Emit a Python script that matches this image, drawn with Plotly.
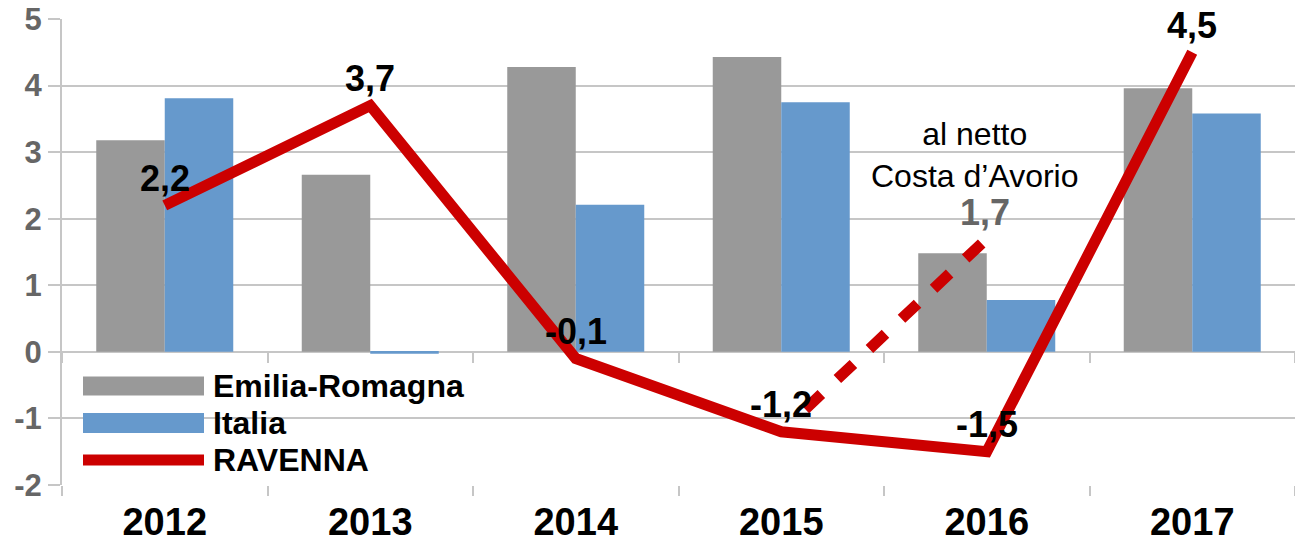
import plotly.graph_objects as go

YEARS = ["2012", "2013", "2014", "2015", "2016", "2017"]
EMILIA_ROMAGNA = [3.18, 2.66, 4.28, 4.43, 1.48, 3.96]
ITALIA = [3.81, -0.03, 2.21, 3.75, 0.78, 3.58]
RAVENNA = [2.2, 3.7, -0.1, -1.2, -1.5, 4.5]
NETTO_YEARS = ["2015", "2016"]
RAVENNA_NETTO = [-1.2, 1.7]
Y_TICKS = [-2, -1, 0, 1, 2, 3, 4, 5]

COLORS = {
    "gray": "#999999",
    "blue": "#6699CC",
    "red": "#CC0000",
    "grid": "#C6C6C6",
    "tick": "#666666",
    "text": "#000000",
}
FONT = "Liberation Sans, Arial, sans-serif"

W, H = 1295, 543
L, R, T, B = 62, 0, 19, 58


def lbl(v):
    return f"{v:.1f}".replace(".", ",")


def px(x, y):
    # pixel position -> paper coordinates (legend placement only)
    return (x - L) / (W - L - R), (H - B - y) / (H - T - B)


fig = go.Figure()
fig.add_trace(go.Bar(x=YEARS, y=EMILIA_ROMAGNA, name="Emilia-Romagna",
                     marker=dict(color=COLORS["gray"], line=dict(width=0))))
fig.add_trace(go.Bar(x=YEARS, y=ITALIA, name="Italia",
                     marker=dict(color=COLORS["blue"], line=dict(width=0))))
fig.add_trace(go.Scatter(x=NETTO_YEARS, y=RAVENNA_NETTO, mode="lines", showlegend=False,
                         line=dict(color=COLORS["red"], width=11,
                                   dash="0px,33px,22px,22px,22px,22px,22px,22px,22px,22px,22px,22px,22px,40px")))
fig.add_trace(go.Scatter(x=YEARS, y=RAVENNA, mode="lines", name="RAVENNA",
                         line=dict(color=COLORS["red"], width=11)))
# helper trace so the zero-line ticks axis has categories
fig.add_trace(go.Scatter(x=YEARS, y=[0] * len(YEARS), xaxis="x2", mode="markers",
                         marker=dict(opacity=0), showlegend=False, hoverinfo="skip"))

annotations = []
for i, v in enumerate(RAVENNA):
    annotations.append(dict(x=i, y=v, text=f"<b>{lbl(v)}</b>", showarrow=False, yshift=27,
                            font=dict(size=36, color=COLORS["text"], family=FONT)))
ni = YEARS.index(NETTO_YEARS[1])
annotations.append(dict(x=ni, y=RAVENNA_NETTO[1], text=f"<b>{lbl(RAVENNA_NETTO[1])}</b>",
                        showarrow=False, yshift=26, xshift=-2,
                        font=dict(size=36, color=COLORS["tick"], family=FONT)))
annotations.append(dict(x=ni, y=RAVENNA_NETTO[1], text="al netto<br>Costa d’Avorio",
                        showarrow=False, xshift=-12, yshift=84, align="center",
                        font=dict(size=32, color=COLORS["text"], family=FONT)))

# custom legend with wide swatches
shapes = []
legend_items = [
    ("Emilia-Romagna", COLORS["gray"], 386, 19),
    ("Italia", COLORS["blue"], 423, 20),
    ("RAVENNA", COLORS["red"], 460, 11),
]
for name, color, cy, hh in legend_items:
    x0, y0 = px(83, cy + hh / 2)
    x1, y1 = px(204, cy - hh / 2)
    shapes.append(dict(type="rect", xref="paper", yref="paper", x0=x0, x1=x1, y0=y0, y1=y1,
                       fillcolor=color, line=dict(width=0), layer="above"))
    tx, ty = px(211, cy)
    annotations.append(dict(xref="paper", yref="paper", x=tx, y=ty, text=f"<b>{name}</b>",
                            showarrow=False, xanchor="left", yanchor="middle",
                            font=dict(size=32, color=COLORS["text"], family=FONT)))

fig.update_layout(
    width=W, height=H, autosize=False,
    paper_bgcolor="white", plot_bgcolor="white",
    margin=dict(l=L, r=R, t=T, b=B, autoexpand=False),
    font=dict(family=FONT, color=COLORS["text"]),
    barmode="group", bargap=1 / 3, bargroupgap=0,
    showlegend=False,
    xaxis=dict(type="category", categoryarray=YEARS, range=[-0.5, 5.5], automargin=False,
               showgrid=False, showline=False, zeroline=False,
               ticks="outside", ticklen=10, tickwidth=2, tickcolor=COLORS["grid"],
               tickson="boundaries", tickprefix="<b>", ticksuffix="</b>",
               ticklabelstandoff=11,
               tickfont=dict(size=38, color=COLORS["text"], family=FONT)),
    xaxis2=dict(type="category", categoryarray=YEARS, range=[-0.5, 5.5], automargin=False,
                overlaying="x", anchor="free", position=2 / 7,
                showgrid=False, showline=False, zeroline=False, showticklabels=False,
                ticks="outside", ticklen=10, tickwidth=2, tickcolor=COLORS["grid"],
                tickson="boundaries"),
    yaxis=dict(range=[-2, 5], automargin=False,
               tickmode="array", tickvals=Y_TICKS, ticktext=[f"<b>{v}</b>" for v in Y_TICKS],
               showgrid=True, gridcolor=COLORS["grid"], gridwidth=2,
               zeroline=True, zerolinecolor=COLORS["grid"], zerolinewidth=2,
               showline=True, linecolor=COLORS["grid"], linewidth=2,
               ticks="outside", ticklen=12, tickwidth=2, tickcolor=COLORS["grid"],
               tickfont=dict(size=31, color=COLORS["tick"], family=FONT),
               ticklabelstandoff=0),
    annotations=annotations,
    shapes=shapes,
)
fig.write_html("out.html", config={"displayModeBar": False},
               post_script="document.body.style.margin='0';")
